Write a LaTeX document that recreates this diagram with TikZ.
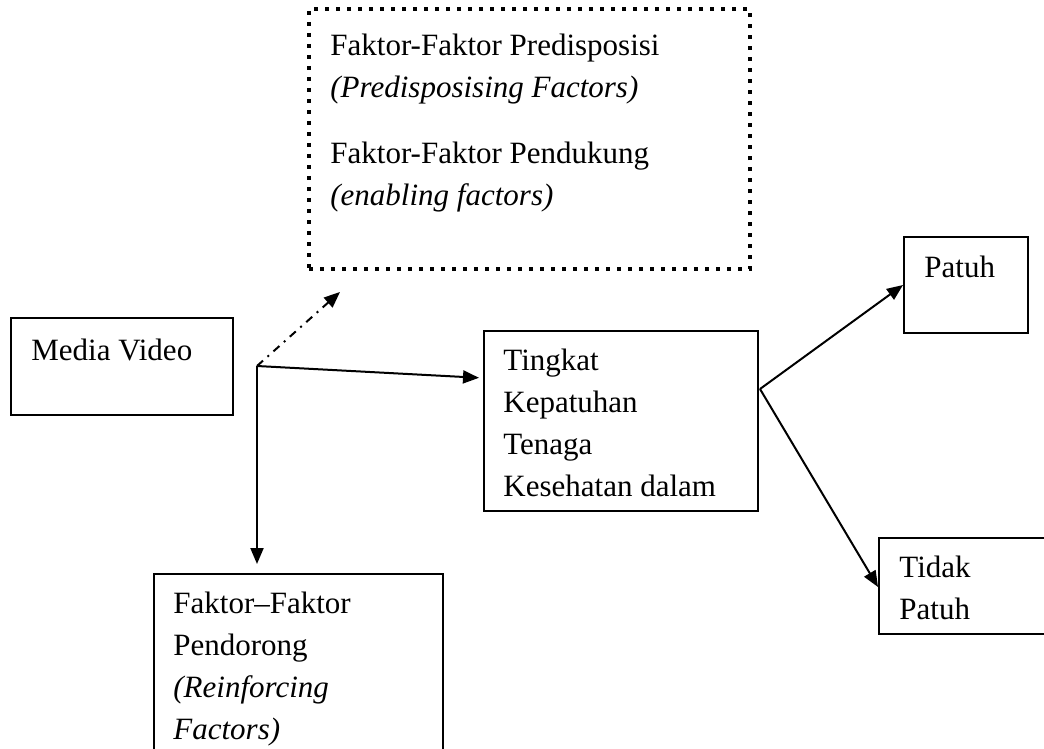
\documentclass[tikz,border=0pt]{standalone}
\usepackage{fontspec}
\setmainfont{Liberation Serif}
\usetikzlibrary{arrows.meta,positioning}

\tikzset{
  kotak/.style={draw,line width=1pt,anchor=north west,inner sep=0pt},
  teks/.style={anchor=north west,inner sep=0pt,align=left,
    font=\fontsize{15.5}{21}\selectfont},
  panah/.style={line width=1pt,-{Triangle[length=8pt,width=6.5pt]}},
}

\begin{document}
\begin{tikzpicture}[x=0.5pt,y=-0.5pt]
    \useasboundingbox (0,0) rectangle (1044,749);

    % Kotak faktor predisposisi dan pendukung (garis titik)
    \node[kotak,line width=2pt,dash pattern=on 2pt off 3.5pt,
      minimum width=220.5pt,minimum height=130pt] (faktor) at (307,7) {};
    \node[teks] (faktorteks) at (330,34)
      {Faktor-Faktor Predisposisi\\ \textit{(Predisposising Factors)}\\[12pt]
       Faktor-Faktor Pendukung\\ \textit{(enabling factors)}};

    % Kotak-kotak
    \node[kotak,minimum width=111pt,minimum height=48.5pt] (media) at (10,317) {};
    \node[teks] (mediateks) at (31,339) {Media Video};

    \node[kotak,minimum width=137pt,minimum height=90pt] (tingkat) at (483,330) {};
    \node[teks] (tingkatteks) at (503,349)
      {Tingkat\\ Kepatuhan\\ Tenaga\\ Kesehatan dalam};

    \node[kotak,minimum width=62pt,minimum height=48pt] (patuh) at (903,236) {};
    \node[teks] (patuhteks) at (924,256) {Patuh};

    \node[kotak,minimum width=90pt,minimum height=48pt] (tidak) at (878,537) {};
    \node[teks] (tidakteks) at (899,556) {Tidak\\ Patuh};

    \node[kotak,minimum width=144.5pt,minimum height=100pt] (pendorong) at (153,573) {};
    \node[teks] (pendorongteks) at (173,592)
      {Faktor--Faktor\\ Pendorong\\ \textit{(Reinforcing}\\ \textit{Factors)}};

    % Titik cabang
    \coordinate (cabang) at (257,366);
    \coordinate (ujung) at (340,292);
    \coordinate (pisah) at (760,389);

    % Panah
    \draw[panah,dash pattern=on 4pt off 3pt on 1pt off 3pt] (cabang) -- (ujung);
    \draw[panah,shorten >=2pt] (cabang) -- ([yshift=-24pt]tingkat.north west);
    \draw[panah,shorten >=4.5pt] (cabang) -- (cabang |- pendorong.north);
    \draw[panah] (pisah) -- (patuh.west);
    \draw[panah] (pisah) -- ([yshift=-25pt]tidak.north west);

\end{tikzpicture}
\end{document}
